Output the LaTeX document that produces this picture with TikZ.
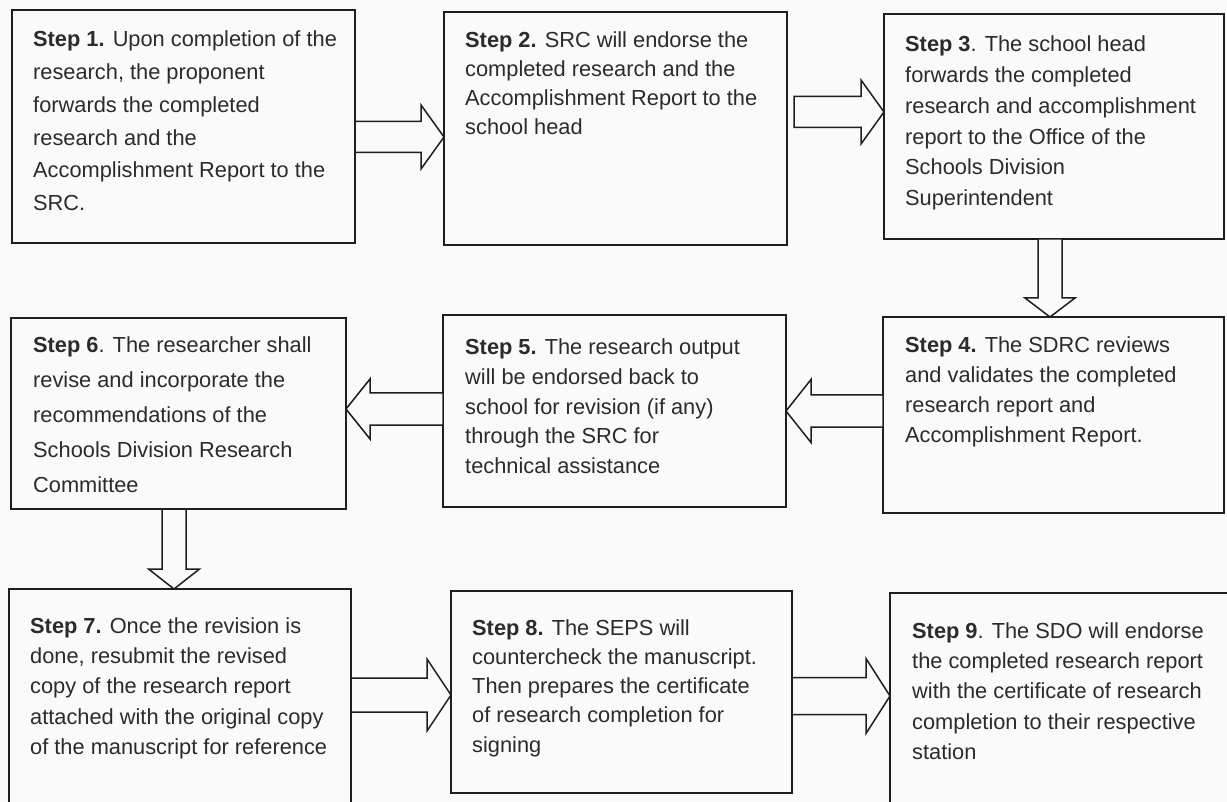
\documentclass[tikz,border=0pt]{standalone}
\usepackage{fontspec}
\setmainfont{Liberation Sans}
\usetikzlibrary{calc}
\definecolor{paper}{HTML}{FAFAFA}
\definecolor{ink}{HTML}{1E1E1E}
\definecolor{textgray}{HTML}{2B2B2B}
% font size for the step texts, with the line spacing as argument
\newcommand\stepfont[1]{\fontsize{21.8}{#1}\selectfont}
% horizontal block arrow: tail, tip, shaft half width, head half width, signed head length
\newcommand\hblock[5]{%
  \draw[blockarrow] ($(#1)+(0,#3)$) -- ($(#2)+({-(#5)},#3)$) -- ($(#2)+({-(#5)},#4)$) -- (#2)
    -- ($(#2)+({-(#5)},-#4)$) -- ($(#2)+({-(#5)},-#3)$) -- ($(#1)+(0,-#3)$) -- cycle;}
% vertical block arrow: tail, tip, shaft half width, head half width, signed head length
\newcommand\vblock[5]{%
  \draw[blockarrow] ($(#1)+(#3,0)$) -- ($(#2)+(#3,{-(#5)})$) -- ($(#2)+(#4,{-(#5)})$) -- (#2)
    -- ($(#2)+(-#4,{-(#5)})$) -- ($(#2)+(-#3,{-(#5)})$) -- ($(#1)+(-#3,0)$) -- cycle;}
\newcommand\lines[1]{\begin{tabular}[t]{@{}l@{}}#1\end{tabular}}

\begin{document}
\begin{tikzpicture}[x=1pt,y=-1pt,
  stepbox/.style={draw=ink, line width=1.8pt, inner sep=0pt, outer sep=0pt,
    anchor=north west, fill=paper},
  steptext/.style={anchor=base west, inner sep=0pt, text=textgray},
  blockarrow/.style={draw=ink, line width=1.5pt, fill=paper, line join=miter}]
\fill[paper] (0,0) rectangle (1227,802);
\useasboundingbox (0,0) rectangle (1227,802);
\clip (0,0) rectangle (1227,802);

% boxes
\node[stepbox, minimum width=343, minimum height=233] (b1) at (12,10) {};
\node[stepbox, minimum width=343, minimum height=233] (b2) at (444,12) {};
\node[stepbox, minimum width=340, minimum height=225] (b3) at (884,14) {};
\node[stepbox, minimum width=341, minimum height=196] (b4) at (883,317) {};
\node[stepbox, minimum width=343, minimum height=192] (b5) at (443,315) {};
\node[stepbox, minimum width=335, minimum height=191] (b6) at (11,318) {};
\node[stepbox, minimum width=342, minimum height=225] (b7) at (9,589) {};
\node[stepbox, minimum width=341, minimum height=202] (b8) at (451,591) {};
\node[stepbox, minimum width=360, minimum height=225] (b9) at (890,593) {};

% texts
\node[steptext, font=\stepfont{32.7}] (t1) at (33,47) {\lines{%
  \textbf{Step 1.} Upon completion of the\\
  research, the proponent\\
  forwards the completed\\
  research and the\\
  Accomplishment Report to the\\
  SRC.}};
\node[steptext, font=\stepfont{28.7}] (t2) at (465,48) {\lines{%
  \textbf{Step 2.} SRC will endorse the\\
  completed research and the\\
  Accomplishment Report to the\\
  school head}};
\node[steptext, font=\stepfont{30.7}] (t3) at (905,52) {\lines{%
  \textbf{Step 3}. The school head\\
  forwards the completed\\
  research and accomplishment\\
  report to the Office of the\\
  Schools Division\\
  Superintendent}};
\node[steptext, font=\stepfont{30}] (t4) at (905,353) {\lines{%
  \textbf{Step 4.} The SDRC reviews\\
  and validates the completed\\
  research report and\\
  Accomplishment Report.}};
\node[steptext, font=\stepfont{29.6}] (t5) at (465,355) {\lines{%
  \textbf{Step 5.} The research output\\
  will be endorsed back to\\
  school for revision (if any)\\
  through the SRC for\\
  technical assistance}};
\node[steptext, font=\stepfont{35}] (t6) at (33,353) {\lines{%
  \textbf{Step 6}. The researcher shall\\
  revise and incorporate the\\
  recommendations of the\\
  Schools Division Research\\
  Committee}};
\node[steptext, font=\stepfont{30.4}] (t7) at (30,633) {\lines{%
  \textbf{Step 7.} Once the revision is\\
  done, resubmit the revised\\
  copy of the research report\\
  attached with the original copy\\
  of the manuscript for reference}};
\node[steptext, font=\stepfont{29.3}] (t8) at (472,635) {\lines{%
  \textbf{Step 8.} The SEPS will\\
  countercheck the manuscript.\\
  Then prepares the certificate\\
  of research completion for\\
  signing}};
\node[steptext, font=\stepfont{30.4}] (t9) at (912,638) {\lines{%
  \textbf{Step 9}. The SDO will endorse\\
  the completed research report\\
  with the certificate of research\\
  completion to their respective\\
  station}};

% arrow ends
\coordinate (a12s) at (b1.east |- 0,137);
\coordinate (a12e) at (b2.west |- 0,137);
\coordinate (a23s) at ($(b2.east |- 0,112)+(7,0)$);
\coordinate (a23e) at (b3.west |- 0,112);
\coordinate (a34s) at (1050,0 |- b3.south);
\coordinate (a34e) at (1050,0 |- b4.north);
\coordinate (a45s) at (b4.west |- 0,411);
\coordinate (a45e) at (b5.east |- 0,411);
\coordinate (a56s) at (b5.west |- 0,409);
\coordinate (a56e) at (b6.east |- 0,409);
\coordinate (a67s) at (174,0 |- b6.south);
\coordinate (a67e) at (174,0 |- b7.north);
\coordinate (a78s) at (b7.east |- 0,695);
\coordinate (a78e) at (b8.west |- 0,695);
\coordinate (a89s) at (b8.east |- 0,696);
\coordinate (a89e) at (b9.west |- 0,696);

% block arrows
\hblock{a12s}{a12e}{15.5}{32}{23}
\hblock{a23s}{a23e}{15.5}{32}{23}
\vblock{a34s}{a34e}{12}{25}{19}
\hblock{a45s}{a45e}{16}{31.5}{-25}
\hblock{a56s}{a56e}{16}{30}{-24}
\vblock{a67s}{a67e}{12}{25.5}{20}
\hblock{a78s}{a78e}{17}{36}{24}
\hblock{a89s}{a89e}{18.5}{37.5}{24}
\end{tikzpicture}
\end{document}
